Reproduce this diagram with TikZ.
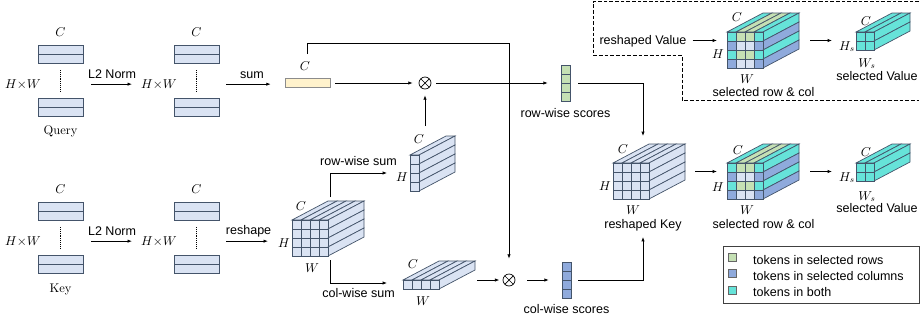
\documentclass[tikz,border=0pt]{standalone}
\usepackage{fontspec}
\setsansfont{Liberation Sans}
\usetikzlibrary{arrows.meta, positioning}

\definecolor{tokedge}{HTML}{44546A}
\definecolor{tokfill}{HTML}{DAE3F3}
\definecolor{rowgreen}{HTML}{C5E0B4}
\definecolor{colblue}{HTML}{8FAADC}
\definecolor{bothcyan}{HTML}{66E3D9}
\definecolor{sumyellow}{HTML}{FFF2CC}
\definecolor{sumedge}{HTML}{8C8C8C}

% cell colour by (row selected, column selected)
\colorlet{tk00}{tokfill}
\colorlet{tk01}{colblue}
\colorlet{tk10}{rowgreen}
\colorlet{tk11}{bothcyan}

\newcommand{\figsize}{\fontsize{10.7}{12.8}\selectfont}

% two tokens, a dotted gap, two tokens; #1 name, (#2,#3) top-left
\newcommand{\tokstack}[3]{%
  \filldraw[bar] (#2,#3) rectangle ++(45,9);
  \filldraw[bar] (#2,#3+9) rectangle ++(45,9);
  \draw[densely dotted, line width=0.6pt] (#2+22.5,#3+25) -- (#2+22.5,#3+47);
  \filldraw[bar] (#2,#3+53) rectangle ++(45,9);
  \filldraw[bar] (#2,#3+62) rectangle ++(45,9);
  \node[inner sep=0, minimum width=13.5mm, minimum height=21.3mm] (#1) at (#2+22.5,#3+35.5) {};
}

% token cube; #1 name, (#2,#3) front top-left, #4 columns, #5 rows,
% #6 selected-row flags, #7 selected-column flags
\newcommand{\tokcube}[7]{%
  \coordinate (#1) at (#2,#3);
  \coordinate (#1-w) at (#2,#3+#5*4.5-9.5);
  \coordinate (#1-e) at (#2+#4*9+36,#3+#5*4.5-9.5);
  % top face
  \foreach \j in {1,...,#4}{
    \pgfmathtruncatemacro\jj{\j-1}
    \pgfmathtruncatemacro\rf{{#6}[0]}
    \pgfmathtruncatemacro\cf{{#7}[\jj]}
    \edef\cc{tk\rf\cf}
    \filldraw[cell, fill=\cc] (#2+\jj*9,#3) -- ++(9,0) -- ++(36,-19) -- ++(-9,0) -- cycle;
  }
  % side face and front face
  \foreach \i in {1,...,#5}{
    \pgfmathtruncatemacro\ii{\i-1}
    \pgfmathtruncatemacro\rf{{#6}[\ii]}
    \pgfmathtruncatemacro\cf{{#7}[#4-1]}
    \edef\cc{tk\rf\cf}
    \filldraw[cell, fill=\cc] (#2+#4*9,#3+\ii*9) -- ++(36,-19) -- ++(0,9) -- ++(-36,19) -- cycle;
    \foreach \j in {1,...,#4}{
      \pgfmathtruncatemacro\jj{\j-1}
      \pgfmathtruncatemacro\cf{{#7}[\jj]}
      \edef\cc{tk\rf\cf}
      \filldraw[cell, fill=\cc] (#2+\jj*9,#3+\ii*9) rectangle ++(9,9);
    }
  }
}

\begin{document}
\begin{tikzpicture}[
    x=0.3mm, y=-0.3mm,
    lbl/.style={font=\sffamily\figsize, inner sep=0},
    dim/.style={font=\figsize, inner sep=0},
    cell/.style={draw=tokedge, line width=0.6pt},
    bar/.style={draw=tokedge, fill=tokfill, line width=0.7pt},
    sumbar/.style={rectangle, draw=sumedge, fill=sumyellow, line width=0.7pt, minimum width=13.5mm, minimum height=2.7mm, inner sep=0},
    prod/.style={circle, draw=black, line width=0.6pt, minimum size=3.6mm, inner sep=0,
      path picture={\draw[line width=0.6pt] (path picture bounding box.north west) -- (path picture bounding box.south east)
        (path picture bounding box.south west) -- (path picture bounding box.north east);}},
    legsq/.style={draw=black!60, line width=0.5pt, minimum size=2.4mm, inner sep=0},
    arrow/.style={-{Latex[length=1.3mm, width=1mm]}, line width=0.6pt}
  ]
  \useasboundingbox (0,0) rectangle (920,325);

  % Query: L2 norm, then sum over tokens
  \tokstack{qin}{38}{45}
  \tokstack{qnorm}{174}{45}
  \node[dim, above=2.4mm of qin] (qinc) {$C$};
  \node[dim, above=2.4mm of qnorm] (qnormc) {$C$};
  \node[dim, anchor=base east] (qinhw) at (41,88) {$H{\times}W$};
  \node[dim, anchor=base east] (qnormhw) at (177,88) {$H{\times}W$};
  \node[dim, below=2.7mm of qin] (query) {Query};
  \node[sumbar] (qsum) at (307.5,83) {};
  \node[dim, anchor=base] (qsumc) at (305,70) {$C$};

  \draw[arrow, shorten <=2.4mm, shorten >=2.7mm] (qinhw -| qin.east) -- node[lbl, above=1.7mm] (qnormlbl) {L2 Norm} (qnormhw.west);
  \draw[arrow, shorten <=2.1mm, shorten >=4.2mm] (qnormhw -| qnorm.east) -- node[lbl, above=1.6mm] (sumlbl) {sum} (qnormhw -| qsum.west);

  % Key: L2 norm, then reshape to a cube
  \tokstack{kin}{38}{202}
  \tokstack{knorm}{174}{202}
  \node[dim, above=2.4mm of kin] (kinc) {$C$};
  \node[dim, above=2.4mm of knorm] (knormc) {$C$};
  \node[dim, anchor=base east] (kinhw) at (41,245) {$H{\times}W$};
  \node[dim, anchor=base east] (knormhw) at (177,245) {$H{\times}W$};
  \node[dim, below=3mm of kin] (key) {Key};

  \tokcube{kcube}{292}{220}{4}{4}{0,0,0,0}{0,0,0,0}
  \node[dim, anchor=base] (kcubec) at (301,210) {$C$};
  \node[dim, anchor=base] (kcubeh) at (284,247) {$H$};
  \node[dim, anchor=base] (kcubew) at (312,272) {$W$};
  \coordinate (kcubetop) at (330,197);
  \coordinate (kcubebot) at (330,260);

  \draw[arrow, shorten <=2.4mm, shorten >=2.7mm] (kinhw -| kin.east) -- node[lbl, above=1.5mm] (knormlbl) {L2 Norm} (knormhw.west);
  \draw[arrow, shorten <=2.1mm, shorten >=3mm] (knormhw -| knorm.east) -- node[lbl, above=1mm] (reshapelbl) {reshape} (knormhw -| kcubeh.west);

  % row-wise and col-wise sums
  \tokcube{rowslab}{410}{155}{1}{4}{0,0,0,0}{0,0,0,0}
  \node[dim, anchor=base] (rowslabc) at (419,143) {$C$};
  \node[dim, anchor=base] (rowslabh) at (402,181) {$H$};
  \coordinate (rowsumend) at (387,173);

  \tokcube{colslab}{403}{280}{4}{1}{0,0,0,0}{0,0,0,0}
  \node[dim, anchor=base] (colslabc) at (413,268) {$C$};
  \node[dim, anchor=base] (colslabw) at (423,305) {$W$};
  \coordinate (colsumend) at (387,283);

  \draw[arrow] (kcubetop) |- node[lbl, pos=0.75, above=2mm] (rowsumlbl) {row-wise sum} (rowsumend);
  \draw[arrow] (kcubebot) |- node[lbl, pos=0.75, below=1.6mm] (colsumlbl) {col-wise sum} (colsumend);

  % scores
  \node[prod] (rowprod) at (425,83) {};
  \node[prod] (colprod) at (509,280) {};
  \foreach \i in {0,...,3} {
    \filldraw[cell, fill=rowgreen] (561,65+\i*9) rectangle ++(9,9);
    \filldraw[cell, fill=colblue] (562,262+\i*9) rectangle ++(9,9);
  }
  \node[inner sep=0, minimum width=2.7mm, minimum height=10.8mm] (rowscore) at (565.5,83) {};
  \node[inner sep=0, minimum width=2.7mm, minimum height=10.8mm] (colscore) at (566.5,280) {};
  \node[lbl, below=2.1mm of rowscore] (rowscorelbl) {row-wise scores};
  \node[lbl, below=1.8mm of colscore] (colscorelbl) {col-wise scores};

  \draw[arrow, shorten <=1.5mm, shorten >=1.8mm] (qsum) -- (rowprod);
  \draw[arrow, shorten <=1.5mm, shorten >=3.9mm] (rowprod) -- (rowscore);
  \draw[arrow, shorten <=2.4mm, shorten >=1.8mm] (rowslabc.north -| rowprod) -- (rowprod);
  \draw[arrow, shorten >=4.5mm] (qsum.north) ++(0,-24) -- ++(0,-11) -| (colprod);
  \draw[arrow, shorten <=0.6mm, shorten >=1mm] (colprod -| colslab-e) -- (colprod);
  \draw[arrow, shorten <=3.6mm, shorten >=3.9mm] (colprod) -- (colscore);

  % select rows and columns of the key
  \tokcube{keycube}{613}{163}{4}{4}{0,0,0,0}{0,0,0,0}
  \node[dim, anchor=base] (keycubec) at (623,153) {$C$};
  \node[dim, anchor=base] (keycubeh) at (605,190) {$H$};
  \node[dim, anchor=base] (keycubew) at (633,214) {$W$};
  \node[lbl, anchor=base] (keycubelbl) at (643,228) {reshaped Key};
  \coordinate (keytop) at (643,136);
  \coordinate (keybot) at (643,237);

  \draw[arrow, shorten <=2.4mm] (rowscore) -| (keytop);
  \draw[arrow, shorten <=2.1mm] (colscore) -| (keybot);

  \tokcube{selcube}{727}{163}{4}{4}{1,0,1,0}{1,0,0,1}
  \node[dim, anchor=base] (selcubec) at (738,154) {$C$};
  \node[dim, anchor=base] (selcubeh) at (718,191) {$H$};
  \node[dim, anchor=base] (selcubew) at (747,214) {$W$};
  \node[lbl, anchor=base] (selcubelbl) at (763.5,228) {selected row \& col};

  \tokcube{valcube}{856}{163}{2}{2}{1,1,1,1}{1,1,1,1}
  \node[dim, anchor=base] (valcubec) at (866,156) {$C$};
  \node[dim, anchor=base] (valcubeh) at (847,181) {$H_s$};
  \node[dim, anchor=base] (valcubew) at (867,200) {$W_s$};
  \node[lbl, anchor=base] (valcubelbl) at (877,212) {selected Value};

  \draw[arrow, shorten <=3mm, shorten >=3mm] (keycube-e) -- (selcube-w);
  \draw[arrow, shorten <=3.3mm, shorten >=7.2mm] (selcube-e) -- (selcube-e -| valcube);

  % value branch
  \draw[line width=0.6pt, dash pattern=on 1.1mm off 0.6mm] (919,1.5) -- (593,1.5) -- (593,55) -- (682,55) -- (682,100) -- (919,100);
  \node[lbl, anchor=base] (rvalue) at (643,44) {reshaped Value};

  \tokcube{topsel}{727}{32}{4}{4}{1,0,1,0}{1,0,0,1}
  \node[dim, anchor=base] (topselc) at (737,21) {$C$};
  \node[dim, anchor=base] (topselh) at (718,58) {$H$};
  \node[dim, anchor=base] (topselw) at (747,83) {$W$};
  \node[lbl, anchor=base] (topsellbl) at (763.5,96) {selected row \& col};

  \tokcube{topval}{856}{32}{2}{2}{1,1,1,1}{1,1,1,1}
  \node[dim, anchor=base] (topvalc) at (866,25) {$C$};
  \node[dim, anchor=base] (topvalh) at (847,50) {$H_s$};
  \node[dim, anchor=base] (topvalw) at (867,67) {$W_s$};
  \node[lbl, anchor=base] (topvallbl) at (877,80) {selected Value};

  \draw[arrow, shorten <=1.8mm, shorten >=3mm] (rvalue.east |- topsel-w) -- (topsel-w);
  \draw[arrow, shorten <=3.3mm, shorten >=7.2mm] (topsel-e) -- (topsel-e -| topval);

  % legend
  \node[draw=black!75, line width=0.8pt, anchor=north west, inner sep=0, minimum width=58.8mm, minimum height=17.1mm] (legend) at (723,246) {};
  \node[legsq, fill=rowgreen] (legrow) at (732,257) {};
  \node[legsq, fill=colblue] (legcol) at (732,273.5) {};
  \node[legsq, fill=bothcyan] (legboth) at (732,290) {};
  \node[lbl, anchor=base west] (legrowtxt) at (753,264) {tokens in selected rows};
  \node[lbl, anchor=base west] (legcoltxt) at (753,280) {tokens in selected columns};
  \node[lbl, anchor=base west] (legbothtxt) at (753,296) {tokens in both};

\end{tikzpicture}
\end{document}
